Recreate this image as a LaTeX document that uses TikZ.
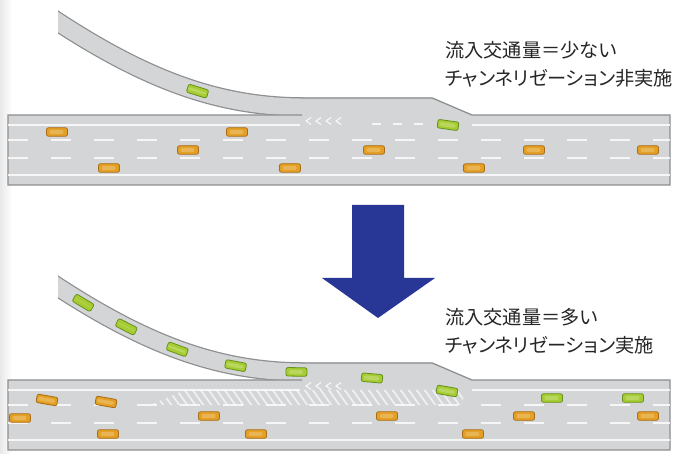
\documentclass[tikz,border=0pt]{standalone}
\usepackage{fontspec}
\newfontfamily\jpfont[RawFeature=+palt]{Noto Sans CJK JP}

\definecolor{roadfill}{RGB}{211,213,214}
\definecolor{roadedge}{RGB}{140,142,144}
\definecolor{carorange}{RGB}{228,160,36}
\definecolor{carorangeedge}{RGB}{170,108,22}
\definecolor{cargreen}{RGB}{166,204,50}
\definecolor{cargreenedge}{RGB}{100,146,28}
\definecolor{arrowblue}{RGB}{40,54,150}

\tikzset{
  car/.style={minimum width=21pt, minimum height=8.5pt, inner sep=0pt,
    rounded corners=2pt, line width=0.8pt, draw,
    path picture={\fill[white, opacity=.22]
      ([xshift=3pt,yshift=-2.2pt]path picture bounding box.north west) rectangle
      ([xshift=-4pt,yshift=2.2pt]path picture bounding box.south east);}},
  orangecar/.style={car, fill=carorange, draw=carorangeedge},
  greencar/.style={car, fill=cargreen, draw=cargreenedge},
  lanemark/.style={white, line width=1.2pt, opacity=.8},
  lanedash/.style={lanemark, dash pattern=on 20pt off 23pt},
  shortdash/.style={lanemark, dash pattern=on 9pt off 12pt},
  edgeline/.style={roadedge, line width=1.25pt},
  jptext/.style={anchor=base west, inner sep=0pt,
    font=\jpfont\fontsize{19.2}{24}\selectfont, text=black!85},
}

% one merge section: on-ramp, acceleration lane and three-lane main road
\newcommand\drawmergeroad{%
  \begin{scope}
    \clip (58,0) rectangle (680,120);
    \draw[roadedge, line width=19.5pt] (46,14) -- (58,22)
      .. controls (148,80.5) and (220,107) .. (304,107);
    \draw[roadfill, line width=17pt] (46,14) -- (58,22)
      .. controls (148,80.5) and (220,107) .. (304,107);
  \end{scope}
  \fill[roadfill] (8,115) -- (300,115) -- (300,97.3) -- (432,97.3) -- (472,115)
    -- (670,115) -- (670,185) -- (8,185) -- cycle;
  \draw[edgeline] (300,97.9) -- (432,97.9) -- (472,115) -- (670,115)
    -- (670,185) -- (8,185) -- (8,115) -- (302,115);
  % lane markings
  \draw[lanemark] (8,125) -- (300,125);
  \draw[lanemark] (472,125) -- (670,125);
  \draw[lanedash] (8,140) -- (670,140);
  \draw[lanedash] (8,158) -- (670,158);
  \draw[lanemark] (8,175) -- (670,175);
  % small gore marks at the nose
  \foreach \x in {306,316,326,336}
    \draw[white, line width=1.1pt, opacity=.85] (\x+5,117.5) -- (\x,121) -- (\x+5,124.5);
}

\begin{document}
\begin{tikzpicture}[x=1pt, y=-1pt]
  \fill[white] (0,0) rectangle (675,454);
  \useasboundingbox (0,0) rectangle (675,454);
  \shade[left color=black!9, right color=white] (0,0) rectangle (12,454);

  % ---------- upper section: light merging traffic ----------
  \begin{scope}
    \drawmergeroad
    \draw[shortdash] (372,124) -- (432,124);
    \path (58,22) .. controls (148,80.5) and (220,107) .. (304,107)
      node[greencar, sloped, pos=0.56] (ga1) {};
    \node[greencar, rotate=-8] (ga2) at (448,125) {};
    \node[orangecar] (oa1) at (57,132) {};
    \node[orangecar] (oa2) at (237,132) {};
    \node[orangecar] (oa3) at (188,150) {};
    \node[orangecar] (oa4) at (374,150) {};
    \node[orangecar] (oa5) at (534,150) {};
    \node[orangecar] (oa6) at (648,150) {};
    \node[orangecar] (oa7) at (109,168) {};
    \node[orangecar] (oa8) at (290,168) {};
    \node[orangecar] (oa9) at (474,168) {};
  \end{scope}
  \node[jptext] (ta1) at (445,58) {流入交通量＝少ない};
  \node[jptext] (ta2) at (445,86) {チャンネリゼーション非実施};

  % ---------- arrow ----------
  \fill[arrowblue] (352,205) -- (404,205) -- (404,278) -- (435,278) -- (378,318)
    -- (322,278) -- (352,278) -- cycle;

  % ---------- lower section: heavy merging traffic, channelized ----------
  \begin{scope}[shift={(0,265)}]
    \drawmergeroad
    % zebra area closing the outer lane
    \begin{scope}
      \clip (150,140) -- (185,125) -- (463,125) -- (463,140) -- cycle;
      \foreach \x in {136,144,...,472}
        \draw[white, line width=1.8pt, opacity=.65] (\x,124) -- (\x+12,141);
    \end{scope}
    \path (58,22) .. controls (148,80.5) and (220,107) .. (304,107)
      node[greencar, sloped, pos=0.095] (gb1) {}
      node[greencar, sloped, pos=0.265] (gb2) {}
      node[greencar, sloped, pos=0.475] (gb3) {}
      node[greencar, sloped, pos=0.72] (gb4) {}
      node[greencar, sloped, pos=0.97] (gb5) {};
    \node[greencar, rotate=-5] (gb6) at (372,113) {};
    \node[greencar, rotate=-10] (gb7) at (447,126) {};
    \node[greencar] (gb8) at (552,133) {};
    \node[greencar] (gb9) at (633,133) {};
    \node[orangecar, rotate=-10] (ob1) at (47,135) {};
    \node[orangecar, rotate=-10] (ob2) at (106,137) {};
    \node[orangecar] (ob3) at (20,153) {};
    \node[orangecar] (ob4) at (209,151) {};
    \node[orangecar] (ob5) at (387,151) {};
    \node[orangecar] (ob6) at (524,151) {};
    \node[orangecar] (ob7) at (648,151) {};
    \node[orangecar] (ob8) at (108,169) {};
    \node[orangecar] (ob9) at (256,169) {};
    \node[orangecar] (ob10) at (473,169) {};
  \end{scope}
  \node[jptext] (tb1) at (445,325) {流入交通量＝多い};
  \node[jptext] (tb2) at (445,353) {チャンネリゼーション実施};
\end{tikzpicture}
\end{document}
